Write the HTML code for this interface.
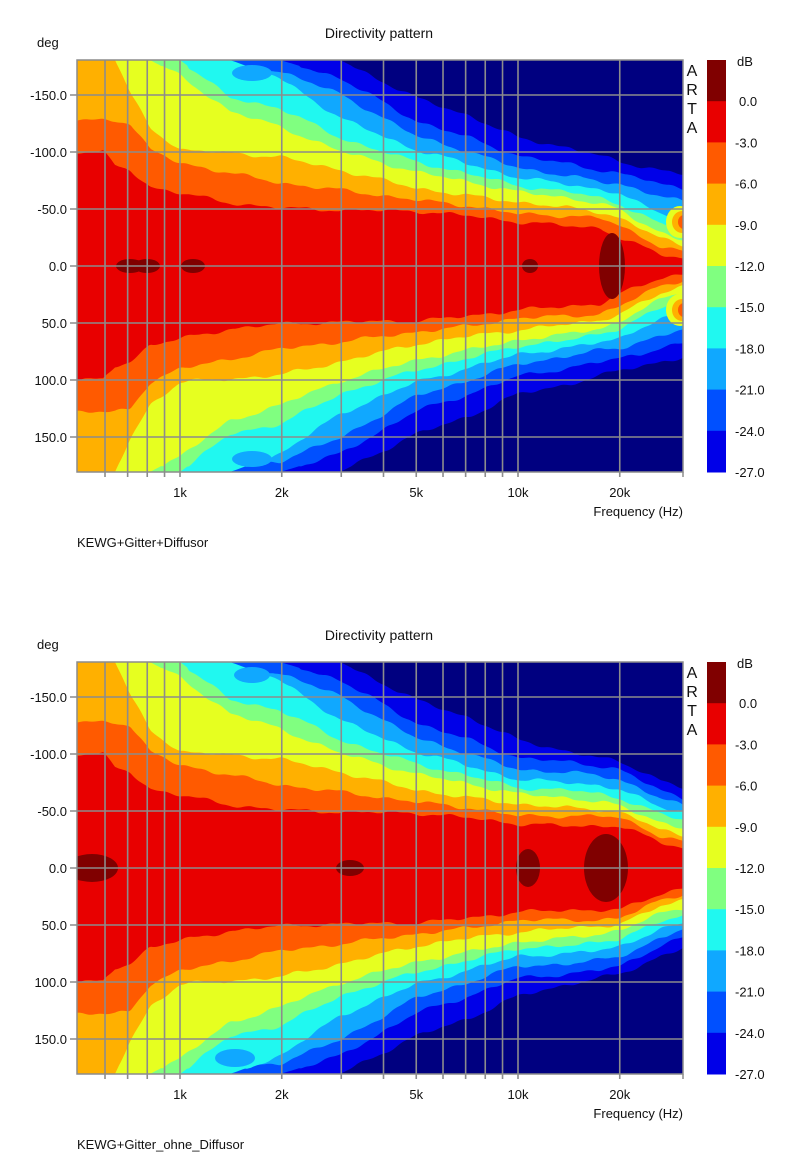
<!DOCTYPE html>
<html><head><meta charset="utf-8">
<style>
body{margin:0;background:#fff;}
svg{display:block;font-family:"Liberation Sans",Arial,sans-serif;}
</style></head>
<body>
<svg id="s" width="800" height="1160" xmlns="http://www.w3.org/2000/svg"></svg>
<script>
var NS="http://www.w3.org/2000/svg";
var S=document.getElementById('s');
function el(t,a,txt,p){var e=document.createElementNS(NS,t);for(var k in a)e.setAttribute(k,a[k]);if(txt!=null)e.textContent=txt;(p||S).appendChild(e);return e;}
var COL=['#800000','#e80000','#ff5a00','#ffb000','#e6ff20','#80ff80','#20f8f0','#10a8ff','#0050ff','#0000e8'];
var NAVY='#000080';
var XS=[77,103,115,130,150,180,230,280,340,416,470,518,570,600,620,640,660,683];
var TOP=[
[114,114,100,96,79,73,63,58,56,55,50,44,40,38,28,20,12,8],
[146,146,146,143,116,103,93,83,76,66,60,52,50,48,40,30,20,14],
[206,206,206,173,139,116,113,109,96,78,70,64,58,54,48,38,28,20],
[206,206,206,206,206,190,155,139,115,94,84,74,68,62,56,44,34,26],
[206,206,206,206,206,206,168,158,128,104,92,80,74,68,62,52,42,36],
[206,206,206,206,206,206,206,188,148,116,102,88,82,76,72,62,54,48],
[206,206,206,206,206,206,200,195,172,130,114,98,90,84,82,76,70,64],
[206,206,206,206,206,206,206,206,188,145,128,110,102,96,92,88,82,78],
[206,206,206,206,206,206,206,206,206,168,150,128,118,110,104,100,96,92]];
var BOT=TOP.map(function(r){return r.slice();});
var tail=[[42,42,42,34,26,20],[52,52,50,42,32,26],[60,58,56,48,38,32],[70,66,62,54,46,40],[78,74,70,62,54,48],[86,82,78,70,62,56],[96,92,88,80,70,62],[106,102,98,88,78,70],[116,110,106,98,88,80]];
for(var i=0;i<9;i++)for(var j=0;j<6;j++)BOT[i][12+j]=tail[i][j];
function interp(arr,x){for(var i=0;i<XS.length-1;i++){if(x<=XS[i+1]){var t=(x-XS[i])/(XS[i+1]-XS[i]);return arr[i]+(arr[i+1]-arr[i])*t;}}return arr[arr.length-1];}
function nz(x,s){return 1.2*Math.sin(x*0.13+s)+0.8*Math.sin(x*0.071+s*2.1)+0.6*Math.sin(x*0.31+s*0.7);}
var defs=el('defs',{});
function chart(oy,tbl,title,caption,blobs,islands){
 var cy=266+oy,top=60+oy,bot=472+oy;
 var cid='c'+oy;var cp=el('clipPath',{id:cid},null,defs);el('rect',{x:77,y:top,width:606,height:412},null,cp);
 var g=el('g',{'clip-path':'url(#'+cid+')'});
 el('rect',{x:77,y:top,width:606,height:412,fill:NAVY},null,g);
 for(var L=8;L>=0;L--){
  var up=[],dn=[];
  for(var x=77;x<=683;x+=2){var w=interp(tbl[L],x);
   var a=(w<200)?1:0;
   up.push(x+','+(cy-w-a*nz(x,L*1.3)).toFixed(1));dn.unshift(x+','+(cy+w+a*nz(x,L*2.7+5)).toFixed(1));}
  el('polygon',{points:'76,'+(cy-interp(tbl[L],77))+' '+up.join(' ')+' 684,'+cy+' '+dn.join(' ')+' 76,'+(cy+interp(tbl[L],77)),fill:COL[L+1]},null,g);
 }
 if(oy==0){ el('ellipse',{cx:252,cy:cy-193,rx:20,ry:8,fill:COL[7]},null,g); el('ellipse',{cx:252,cy:cy+193,rx:20,ry:8,fill:COL[7]},null,g);}
 else { el('ellipse',{cx:252,cy:cy-193,rx:18,ry:8,fill:COL[7]},null,g); el('ellipse',{cx:235,cy:cy+190,rx:20,ry:9,fill:COL[7]},null,g);}
 islands.forEach(function(d){el('ellipse',{cx:680,cy:cy+d,rx:14,ry:16,fill:COL[4]},null,g);el('ellipse',{cx:682,cy:cy+d,rx:10,ry:11,fill:COL[3]},null,g);el('ellipse',{cx:684,cy:cy+d,rx:6,ry:7,fill:COL[2]},null,g);});
 blobs.forEach(function(b){el('ellipse',{cx:b[0],cy:cy,rx:b[1],ry:b[2],fill:COL[0]},null,g);});
 var gs={stroke:'#8c8c8c','stroke-width':1.6};
 for(var d=-150;d<=150;d+=50){var y=cy+d*1.14;el('line',Object.assign({x1:70,x2:683,y1:y,y2:y},gs));}
 var fr=[600,700,800,900,1000,2000,3000,4000,5000,6000,7000,8000,9000,10000,20000];
 fr.forEach(function(f){var x=180+338*Math.log10(f/1000);el('line',Object.assign({x1:x,x2:x,y1:top,y2:bot+5},gs));});
 el('rect',{x:77,y:top,width:606,height:412,fill:'none',stroke:'#8c8c8c','stroke-width':1.5});
 el('line',{x1:683,x2:683,y1:bot,y2:bot+5,stroke:'#8c8c8c','stroke-width':1.5});
 el('text',{x:379,y:38+oy,'font-size':14,'text-anchor':'middle',fill:'#111'},title);
 el('text',{x:37,y:47+oy,'font-size':13,fill:'#111'},'deg');
 for(var d=-150;d<=150;d+=50){el('text',{x:67,y:cy+d*1.14+5,'font-size':13,'text-anchor':'end',fill:'#111'},(d<0?'-':'')+Math.abs(d)+'.0');}
 [['1k',1000],['2k',2000],['5k',5000],['10k',10000],['20k',20000]].forEach(function(t){el('text',{x:180+338*Math.log10(t[1]/1000),y:bot+25,'font-size':13,'text-anchor':'middle',fill:'#111'},t[0]);});
 el('text',{x:683,y:bot+44,'font-size':13,'text-anchor':'end',fill:'#111'},'Frequency (Hz)');
 el('text',{x:77,y:bot+75,'font-size':13,fill:'#111'},caption);
 ['A','R','T','A'].forEach(function(c,i){el('text',{x:692,y:top+16+i*19,'font-size':16,'text-anchor':'middle',fill:'#111'},c);});
 var bh=41.2;
 for(var i=0;i<10;i++)el('rect',{x:707,y:top+i*bh,width:19,height:bh+0.5,fill:COL[i]});
 el('text',{x:737,y:top+6,'font-size':13,fill:'#111'},'dB');
 for(var i=1;i<=10;i++){var v=-(i-1)*3;el('text',{x:v==0?739:735,y:top+i*bh+5,'font-size':13,fill:'#111'},v.toFixed(1));}
}
chart(0,TOP,'Directivity pattern','KEWG+Gitter+Diffusor',[[130,14,7],[147,13,7],[193,12,7],[530,8,7],[612,13,33]],[-44,44]);
chart(602,BOT,'Directivity pattern','KEWG+Gitter_ohne_Diffusor',[[92,26,14],[350,14,8],[528,12,19],[606,22,34]],[]);
</script>
</body></html>
